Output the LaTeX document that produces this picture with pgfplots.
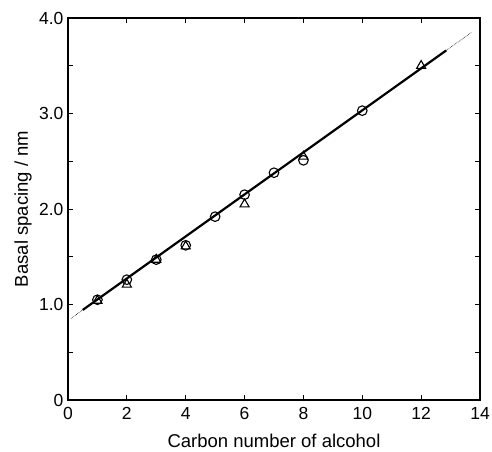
\documentclass[border=0pt]{standalone}
\usepackage{fontspec}
\setmainfont{Liberation Sans}
\usepackage{pgfplots}
\pgfplotsset{compat=1.18}
\begin{document}
\begin{tikzpicture}
\begin{axis}[
  name=ax,
  scale only axis,
  width=412pt, height=382pt,
  xmin=0, xmax=14, ymin=0, ymax=4,
  xtick={0,2,...,14},
  ytick={0,1,2,3,4},
  minor y tick num=1,
  yticklabels={0,1.0,2.0,3.0,4.0},
  tick align=inside,
  major tick length=5pt, minor tick length=5pt,
  axis line style={line width=1.3pt},
  every tick/.style={black, line width=1pt},
  /pgf/number format/assume math mode=true,
  ticklabel style={font=\fontsize{17.5}{20}\selectfont},
  xticklabel style={yshift=-4pt},
  yticklabel style={xshift=-1pt},
  xlabel={Carbon number of alcohol},
  ylabel={Basal spacing / nm},
  every axis x label/.style={at={(axis description cs:0.5,0)}, yshift=-41pt, anchor=center, font=\fontsize{18.5}{22}\selectfont},
  every axis y label/.style={at={(axis description cs:0,0.5)}, xshift=-45pt, rotate=90, anchor=center, font=\fontsize{18.5}{22}\selectfont},
  clip=false,
]
% regression line
\addplot[black, line width=0.6pt, densely dotted] coordinates {(0.1,0.855) (0.5,0.943)};
\addplot[black, line width=2.2pt] coordinates {(0.5,0.943) (12.85,3.660)};
\addplot[black, line width=0.6pt, densely dotted] coordinates {(12.85,3.660) (13.7,3.847)};
% circles
\addplot[only marks, mark=o, mark size=4.8pt, mark options={fill=white, line width=1.1pt}] coordinates {
(1,1.05) (2,1.26) (3,1.47) (4,1.62) (5,1.92) (6,2.15) (7,2.38) (8,2.51) (10,3.03)};
% triangles
\addplot[only marks, mark=triangle, mark size=5.2pt, mark options={fill=none, line width=1.1pt}] coordinates {
(1,1.04) (2,1.21) (3,1.47) (4,1.61) (6,2.05) (8,2.55) (12,3.50)};
\end{axis}
\pgfresetboundingbox
\useasboundingbox ([shift={(-68pt,-51pt)}]ax.south west) rectangle ([shift={(424pt,400pt)}]ax.south west);
\end{tikzpicture}
\end{document}
